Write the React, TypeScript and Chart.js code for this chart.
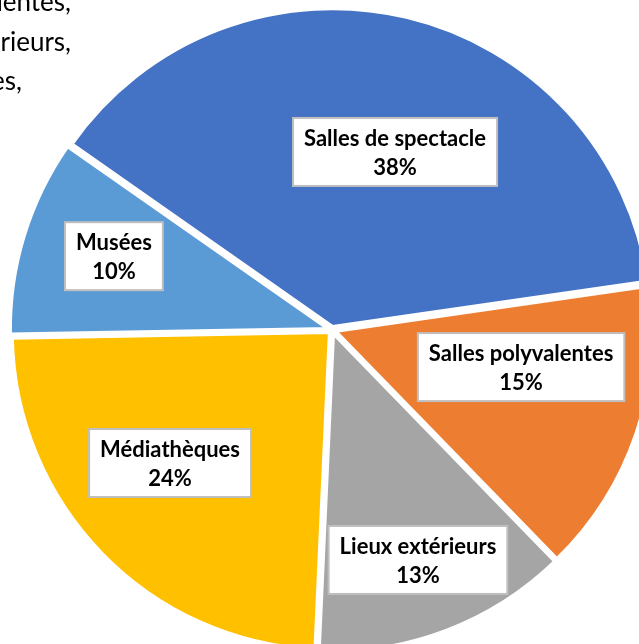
import React, { useEffect, useRef } from "react";
import { Chart, registerables } from "chart.js";

Chart.register(...registerables);

// ---- data ----
const categories = [
  "Salles de spectacle",
  "Salles polyvalentes",
  "Lieux extérieurs",
  "Médiathèques",
  "Musées",
];
const shares = [38, 15, 13, 24, 10];
const sliceColors = ["#4472C4", "#ED7D31", "#A5A5A5", "#FFC000", "#5B9BD5"];
const noteLines = ["Salles polyvalentes,", "Lieux extérieurs,", "Médiathèques,"];

// ---- layout / style constants ----
const noteLineRight = [71, 71, 22];
const labelRadius = [0.594, 0.606, 0.772, 0.659, 0.724];
const labelAngleShift = [6.1, -7.7, 0.3, 4.8, 1.7];
const LABEL_FONT = "bold 22px Lato, 'Liberation Sans', sans-serif";

const boxLabels = {
  id: "boxLabels",
  afterDatasetsDraw(chart: any) {
    const ctx = chart.ctx as CanvasRenderingContext2D;
    const meta = chart.getDatasetMeta(0);
    const data = chart.data.datasets[0].data as number[];
    const total = data.reduce((a, b) => a + b, 0);
    ctx.save();
    ctx.font = LABEL_FONT;
    meta.data.forEach((arc: any, i: number) => {
      const { x, y, startAngle, endAngle, outerRadius } = arc.getProps(
        ["x", "y", "startAngle", "endAngle", "outerRadius"],
        true
      );
      const mid = (startAngle + endAngle) / 2 + (labelAngleShift[i] * Math.PI) / 180;
      const r = outerRadius * labelRadius[i];
      const cx = x + Math.cos(mid) * r;
      const cy = y + Math.sin(mid) * r;
      const l1 = String(chart.data.labels[i]);
      const l2 = Math.round((data[i] / total) * 100) + "%";
      const w = Math.max(ctx.measureText(l1).width, ctx.measureText(l2).width) + 22;
      const h = 68;
      ctx.fillStyle = "#FFFFFF";
      ctx.fillRect(cx - w / 2, cy - h / 2, w, h);
      ctx.strokeStyle = "#BFBFBF";
      ctx.lineWidth = 2;
      ctx.strokeRect(cx - w / 2, cy - h / 2, w, h);
      ctx.fillStyle = "#000000";
      ctx.textAlign = "center";
      ctx.textBaseline = "alphabetic";
      ctx.fillText(l1, cx, cy - 6);
      ctx.fillText(l2, cx, cy + 23);
    });
    ctx.restore();
  },
};

export default function App() {
  const canvasRef = useRef<HTMLCanvasElement | null>(null);

  useEffect(() => {
    if (!canvasRef.current) return;
    const chart = new Chart(canvasRef.current, {
      type: "pie",
      data: {
        labels: categories,
        datasets: [
          {
            data: shares,
            backgroundColor: sliceColors,
            borderColor: "#FFFFFF",
            borderWidth: 4,
            offset: 12,
            hoverOffset: 0,
            radius: 318,
          } as any,
        ],
      },
      options: {
        responsive: false,
        animation: false,
        devicePixelRatio: 1,
        rotation: 305,
        radius: 318,
        layout: { padding: 0 },
        events: [],
        plugins: {
          legend: { display: false },
          tooltip: { enabled: false },
          title: { display: false },
        },
      } as any,
      plugins: [boxLabels],
    });
    return () => chart.destroy();
  }, []);

  return (
    <div
      style={{
        position: "fixed",
        left: 0,
        top: 0,
        width: 639,
        height: 644,
        overflow: "hidden",
        background: "#FFFFFF",
      }}
    >
      <canvas
        ref={canvasRef}
        width={664}
        height={660}
        style={{ position: "absolute", left: 0, top: 0, width: 664, height: 660, display: "block" }}
      />
      {noteLines.map((t, i) => (
        <div
          key={i}
          style={{
            position: "absolute",
            right: 639 - noteLineRight[i],
            top: -19 + i * 39.5,
            height: 40,
            lineHeight: "40px",
            whiteSpace: "nowrap",
            fontFamily: "Lato, 'Liberation Sans', sans-serif",
            fontSize: 26,
            color: "#000000",
          }}
        >
          {t}
        </div>
      ))}
    </div>
  );
}
